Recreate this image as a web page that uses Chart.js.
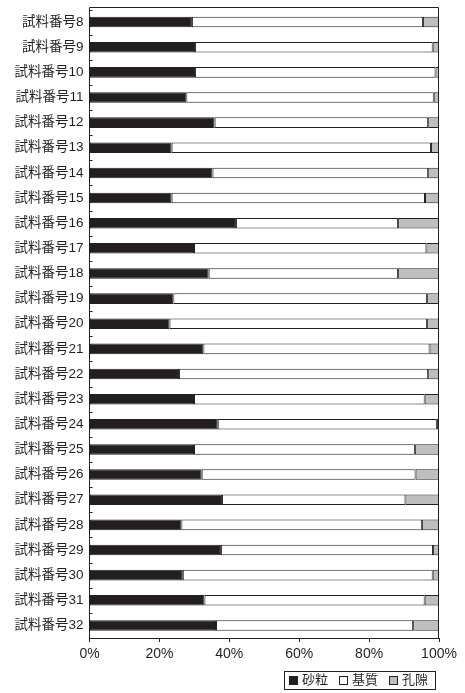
<!DOCTYPE html>
<html>
<head>
<meta charset="utf-8">
<script src="https://cdn.jsdelivr.net/npm/chart.js@4/dist/chart.umd.min.js"></script>
<style>
  body { margin: 0; background: #fff; }
</style>
</head>
<body>
<canvas id="myChart" width="465" height="693"></canvas>
<script>
// 試料ごとの構成比（%）
const samples = ["試料番号8", "試料番号9", "試料番号10", "試料番号11", "試料番号12", "試料番号13", "試料番号14",
    "試料番号15", "試料番号16", "試料番号17", "試料番号18", "試料番号19", "試料番号20", "試料番号21",
    "試料番号22", "試料番号23", "試料番号24", "試料番号25", "試料番号26", "試料番号27", "試料番号28",
    "試料番号29", "試料番号30", "試料番号31", "試料番号32"];
const sand   = [29.3, 30.2, 30.2, 27.7, 35.8, 23.5, 35.2, 23.5, 41.9, 29.9, 34.1, 24.0, 22.9, 32.6, 25.6, 29.9, 36.7, 29.9, 32.1, 37.9, 26.3, 37.6, 26.7, 32.9, 36.2];
const matrix = [66.1, 68.0, 68.8, 70.8, 61.1, 74.2, 61.7, 72.5, 46.4, 66.5, 54.2, 72.6, 73.7, 64.7, 71.3, 66.0, 62.7, 63.2, 61.2, 52.5, 68.8, 60.7, 71.5, 63.0, 56.4];
const pores  = [4.6, 1.8, 1.0, 1.5, 3.1, 2.3, 3.1, 4.0, 11.7, 3.6, 11.7, 3.4, 3.4, 2.7, 3.1, 4.1, 0.6, 6.9, 6.7, 9.6, 4.9, 1.7, 1.8, 4.1, 7.4];
const seriesNames = ["砂粒", "基質", "孔隙"];
const xTicks = [0, 20, 40, 60, 80, 100];

const ink = "#231f20";
const fontFamily = "'Liberation Sans', 'Noto Sans CJK JP', sans-serif";

function makeSet(label, data, color) {
    return {
        label: label,
        data: data,
        backgroundColor: color,
        borderColor: ink,
        borderWidth: 1,
        borderSkipped: false,
        barPercentage: 0.42,
        categoryPercentage: 1.0
    };
}

// 枠線、内側の目盛り、枠付きの凡例
const framePlugin = {
    id: "frame",
    afterDraw(chart) {
        const c = chart.ctx;
        const a = chart.chartArea;
        c.save();
        c.strokeStyle = ink;
        c.lineWidth = 1;
        // 上辺はカテゴリ帯より少し上に置く
        const frameTop = 7.5;
        c.beginPath();
        c.moveTo(a.left, a.top);
        c.lineTo(a.left, frameTop);
        c.lineTo(a.right - 0.5, frameTop);
        c.lineTo(a.right - 0.5, a.bottom);
        c.stroke();

        const step = (a.bottom - a.top) / samples.length;
        c.beginPath();
        for (let i = 0; i < samples.length; i++) {
            const y = Math.round(a.top + i * step) + 0.5;
            c.moveTo(a.left, y);
            c.lineTo(a.left + 3, y);
        }
        c.stroke();

        // 凡例
        const midY = 680.5;
        let x = 289;
        c.font = "13px " + fontFamily;
        c.textBaseline = "middle";
        c.textAlign = "left";
        chart.data.datasets.forEach(ds => {
            c.fillStyle = ds.backgroundColor;
            c.fillRect(x, midY - 4.5, 9, 9);
            c.strokeRect(x + 0.5, midY - 4, 8, 8);
            c.fillStyle = ink;
            c.fillText(ds.label, x + 13, midY);
            x += 13 + c.measureText(ds.label).width + 11;
        });
        c.strokeRect(284.5, 671.5, x - 11 + 7 - 284, 18);
        c.restore();
    }
};

new Chart(document.getElementById("myChart"), {
    type: "bar",
    data: {
        labels: samples,
        datasets: [
            makeSet(seriesNames[0], sand, ink),
            makeSet(seriesNames[1], matrix, "#ffffff"),
            makeSet(seriesNames[2], pores, "#bcbec0")
        ]
    },
    options: {
        indexAxis: "y",
        responsive: false,
        animation: false,
        devicePixelRatio: 1,
        layout: { padding: { top: 9.5, right: 26, left: 0, bottom: 28 } },
        scales: {
            x: {
                stacked: true,
                min: 0,
                max: 100,
                afterBuildTicks: s => { s.ticks = xTicks.map(v => ({ value: v })); },
                afterFit: s => { s.height = 27; },
                grid: { drawOnChartArea: false, tickLength: 4, color: ink },
                border: { color: ink },
                ticks: {
                    color: ink,
                    padding: 4,
                    font: { family: fontFamily, size: 14 },
                    callback: v => v + "%"
                }
            },
            y: {
                stacked: true,
                afterFit: s => {
                    s.width = 89.5;
                    s.paddingTop = 0;
                    s.paddingBottom = 0;
                },
                grid: { display: false, drawTicks: false },
                border: { color: ink },
                ticks: {
                    color: ink,
                    padding: 6,
                    font: { family: fontFamily, size: 13.5 }
                }
            }
        },
        plugins: {
            tooltip: { enabled: false },
            legend: { display: false }
        }
    },
    plugins: [framePlugin]
});
</script>
</body>
</html>
